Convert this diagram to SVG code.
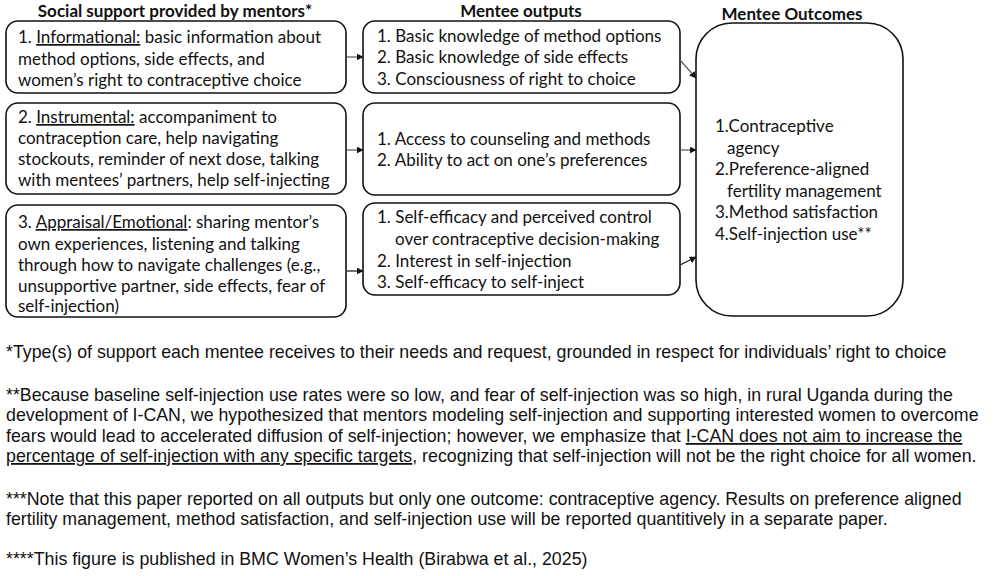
<svg xmlns="http://www.w3.org/2000/svg" width="1000" height="576" viewBox="0 0 1000 576">
<style>
.box{fill:#fff;stroke:#111;stroke-width:1.6}
.t{font-family:Lato,"Liberation Sans",sans-serif;font-size:17px;fill:#111}
.h{font-family:Lato,"Liberation Sans",sans-serif;font-size:17px;font-weight:bold;fill:#111}
.f{font-family:"Liberation Sans",Arial,sans-serif;font-size:17.8px;fill:#111}
.c{fill:none;stroke:#555;stroke-width:1.2;marker-end:url(#ah)}
</style>
<defs>
<marker id="ah" viewBox="0 0 10 10" refX="9" refY="5" markerWidth="7" markerHeight="7" markerUnits="userSpaceOnUse" orient="auto">
<path d="M0,0 L10,5 L0,10 z" fill="#111"/>
</marker>
</defs>
<rect width="1000" height="576" fill="#fff"/>
<text class="h" x="175" y="17" text-anchor="middle">Social support provided by mentors*</text>
<text class="h" x="521" y="17" text-anchor="middle">Mentee outputs</text>
<text class="h" x="792" y="20" text-anchor="middle">Mentee Outcomes</text>

<g id="s1">
<rect class="box" x="6" y="21" width="340" height="72" rx="12"/>
<text class="t" x="18" y="43">1. <tspan text-decoration="underline">Informational:</tspan> basic information about</text>
<text class="t" x="18" y="65">method options, side effects, and</text>
<text class="t" x="18" y="86">women’s right to contraceptive choice</text>
</g>
<g id="s2">
<rect class="box" x="6" y="103" width="340" height="91" rx="12"/>
<text class="t" x="18" y="123">2. <tspan text-decoration="underline">Instrumental:</tspan> accompaniment to</text>
<text class="t" x="18" y="144">contraception care, help navigating</text>
<text class="t" x="18" y="165">stockouts, reminder of next dose, talking</text>
<text class="t" x="18" y="186">with mentees’ partners, help self-injecting</text>
</g>
<g id="s3">
<rect class="box" x="6" y="205" width="340" height="112" rx="12"/>
<text class="t" x="18" y="228">3. <tspan text-decoration="underline">Appraisal/Emotional</tspan>: sharing mentor’s</text>
<text class="t" x="18" y="250">own experiences, listening and talking</text>
<text class="t" x="18" y="271">through how to navigate challenges (e.g.,</text>
<text class="t" x="18" y="292">unsupportive partner, side effects, fear of</text>
<text class="t" x="18" y="312">self-injection)</text>
</g>

<g id="o1">
<rect class="box" x="363" y="21" width="317" height="72" rx="12"/>
<text class="t" x="377" y="42">1. Basic knowledge of method options</text>
<text class="t" x="377" y="63">2. Basic knowledge of side effects</text>
<text class="t" x="377" y="85">3. Consciousness of right to choice</text>
</g>
<g id="o2">
<rect class="box" x="363" y="103" width="317" height="92" rx="12"/>
<text class="t" x="377" y="145">1. Access to counseling and methods</text>
<text class="t" x="377" y="166">2. Ability to act on one’s preferences</text>
</g>
<g id="o3">
<rect class="box" x="363" y="203" width="317" height="92" rx="12"/>
<text class="t" x="377" y="223">1. Self-efficacy and perceived control</text>
<text class="t" x="395" y="245">over contraceptive decision-making</text>
<text class="t" x="377" y="267">2. Interest in self-injection</text>
<text class="t" x="377" y="288">3. Self-efficacy to self-inject</text>
</g>

<g id="out">
<rect class="box" x="696" y="23" width="207" height="293" rx="36"/>
<text class="t" x="715" y="132">1.Contraceptive</text>
<text class="t" x="727" y="154">agency</text>
<text class="t" x="715" y="175">2.Preference-aligned</text>
<text class="t" x="727" y="197">fertility management</text>
<text class="t" x="715" y="218">3.Method satisfaction</text>
<text class="t" x="715" y="240">4.Self-injection use**</text>
</g>

<g id="connectors">
<line class="c" x1="347" y1="57" x2="363" y2="57"/>
<line class="c" x1="347" y1="150" x2="363" y2="150"/>
<line class="c" x1="347" y1="271" x2="363" y2="271" style="stroke:#111"/>
<line class="c" x1="680" y1="60" x2="696" y2="78"/>
<line class="c" x1="680" y1="150" x2="696" y2="150"/>
<line class="c" x1="680" y1="265" x2="696" y2="257" style="stroke:#111"/>
</g>

<g id="notes">
<text class="f" x="6" y="358">*Type(s) of support each mentee receives to their needs and request, grounded in respect for individuals’ right to choice</text>
<text class="f" x="6" y="401">**Because baseline self-injection use rates were so low, and fear of self-injection was so high, in rural Uganda during the</text>
<text class="f" x="6" y="421">development of I-CAN, we hypothesized that mentors modeling self-injection and supporting interested women to overcome</text>
<text class="f" x="6" y="442">fears would lead to accelerated diffusion of self-injection; however, we emphasize that <tspan text-decoration="underline">I-CAN does not aim to increase the</tspan></text>
<text class="f" x="6" y="462"><tspan text-decoration="underline">percentage of self-injection with any specific targets</tspan>, recognizing that self-injection will not be the right choice for all women.</text>
<text class="f" x="6" y="505">***Note that this paper reported on all outputs but only one outcome: contraceptive agency. Results on preference aligned</text>
<text class="f" x="6" y="525">fertility management, method satisfaction, and self-injection use will be reported quantitively in a separate paper.</text>
<text class="f" x="6" y="565">****This figure is published in BMC Women’s Health (Birabwa et al., 2025)</text>
</g>
</svg>
